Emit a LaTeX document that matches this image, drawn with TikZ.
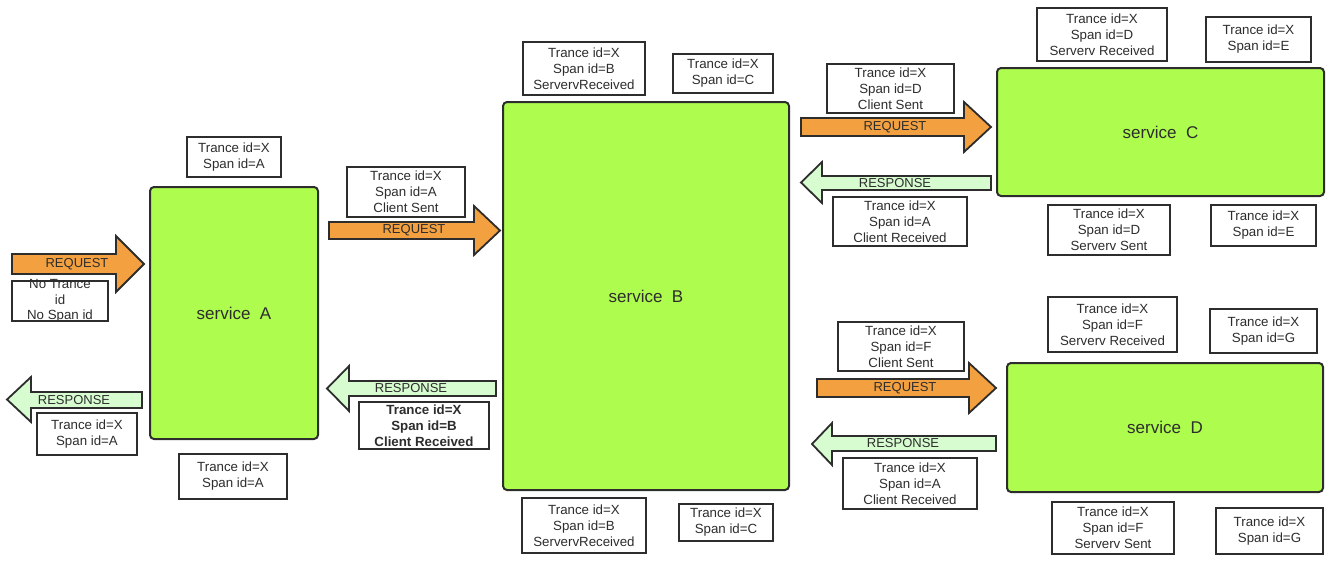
\documentclass[tikz,border=0pt]{standalone}
\usepackage{fontspec}
\setmainfont{Liberation Sans}
\definecolor{svcgreen}{RGB}{174,252,77}
\definecolor{reqorange}{RGB}{243,161,64}
\definecolor{respgreen}{RGB}{214,252,208}
\definecolor{edgegray}{RGB}{45,45,45}
\definecolor{textgray}{RGB}{45,45,45}

\begin{document}
\begin{tikzpicture}[x=1pt,y=-1pt,
    svcbox/.style={draw=edgegray, line width=2pt, fill=svcgreen, rounded corners=4pt, inner sep=0pt, font=\fontsize{17}{20}\selectfont, text=textgray},
    tagbox/.style={draw=edgegray, line width=1.8pt, fill=white, inner sep=0pt, align=center, font=\fontsize{13.3}{16}\selectfont, text=textgray},
    tagtext/.style={inner sep=0pt, align=center, font=\fontsize{13.3}{15.5}\selectfont, text=textgray},
    reqarrow/.style={draw=edgegray, line width=1.8pt, fill=reqorange},
    resarrow/.style={draw=edgegray, line width=1.8pt, fill=respgreen},
    arrowtext/.style={inner sep=0pt, font=\fontsize{13}{15}\selectfont, text=textgray}]
\useasboundingbox (0,0) rectangle (1340,562);
% services
\node[svcbox, minimum width=168, minimum height=252] (svcA) at (234,313) {service\ \ A};
\node[svcbox, minimum width=286, minimum height=388] (svcB) at (646,296) {service\ \ B};
\node[svcbox, minimum width=327, minimum height=128] (svcC) at (1160.5,132) {service\ \ C};
\node[svcbox, minimum width=316, minimum height=129] (svcD) at (1165,427.5) {service\ \ D};
% requests
\draw[reqarrow] (12,254) -- (116,254) -- (116,236) -- (144,264) -- (116,292) -- (116,274) -- (12,274) -- cycle;
\node[arrowtext] (reqA) at (77,264) {REQUEST};
\draw[reqarrow] (329,222) -- (474,222) -- (474,206) -- (500,230.5) -- (474,255) -- (474,239) -- (329,239) -- cycle;
\node[arrowtext] (reqB) at (414,230.5) {REQUEST};
\draw[reqarrow] (801,118) -- (964,118) -- (964,102) -- (991,127) -- (964,152) -- (964,136) -- (801,136) -- cycle;
\node[arrowtext] (reqC) at (895,127) {REQUEST};
\draw[reqarrow] (817,379) -- (969,379) -- (969,363) -- (996,388) -- (969,413) -- (969,397) -- (817,397) -- cycle;
\node[arrowtext] (reqD) at (905,388) {REQUEST};
% responses
\draw[resarrow] (142,392) -- (31,392) -- (31,377) -- (7,399.5) -- (31,422) -- (31,408) -- (142,408) -- cycle;
\node[arrowtext] (resA) at (74,400) {RESPONSE};
\draw[resarrow] (496,381) -- (349,381) -- (349,366) -- (327,388.5) -- (349,411) -- (349,396) -- (496,396) -- cycle;
\node[arrowtext] (resB) at (411,388.5) {RESPONSE};
\draw[resarrow] (991,176) -- (822,176) -- (822,162) -- (801,182.5) -- (822,203) -- (822,190) -- (991,190) -- cycle;
\node[arrowtext] (resC) at (895,183) {RESPONSE};
\draw[resarrow] (996,436) -- (832,436) -- (832,423) -- (812,444) -- (832,465) -- (832,451) -- (996,451) -- cycle;
\node[arrowtext] (resD) at (903,443.5) {RESPONSE};
% tags round service A
\node[tagbox, minimum width=96, minimum height=40] (tagAin) at (60,301) {};
\node[tagtext] (tagAintext) at (tagAin) {No Trance\\id\\No Span id};
\node[tagbox, minimum width=94, minimum height=40] (tagAtop) at (234,157) {Trance id=X\\Span id=A};
\node[tagbox, minimum width=108, minimum height=45] (tagAbot) at (233,476.5) {Trance id=X\\Span id=A};
\node[tagbox, minimum width=100, minimum height=42] (tagAout) at (87,434) {Trance id=X\\Span id=A};
% tags round service B
\node[tagbox, minimum width=118, minimum height=50] (tagBin) at (406,192) {Trance id=X\\Span id=A\\Client Sent};
\node[tagbox, minimum width=130, minimum height=47, font=\fontsize{13.3}{16}\selectfont\bfseries] (tagBout) at (424,425.5) {Trance id=X\\Span id=B\\Client Received};
\node[tagbox, minimum width=122, minimum height=53] (tagBtopL) at (584,68.5) {Trance id=X\\Span id=B\\ServervReceived};
\node[tagbox, minimum width=100, minimum height=39] (tagBtopR) at (723,73.5) {Trance id=X\\Span id=C};
\node[tagbox, minimum width=124, minimum height=55] (tagBbotL) at (584,525.5) {Trance id=X\\Span id=B\\ServervReceived};
\node[tagbox, minimum width=94, minimum height=37] (tagBbotR) at (726,522.5) {Trance id=X\\Span id=C};
% tags round service C
\node[tagbox, minimum width=127, minimum height=49] (tagCin) at (890.5,88.5) {Trance id=X\\Span id=D\\Client Sent};
\node[tagbox, minimum width=134, minimum height=49] (tagCout) at (900,221.5) {Trance id=X\\Span id=A\\Client Received};
\node[tagbox, minimum width=130, minimum height=53] (tagCtopL) at (1102,34.5) {Trance id=X\\Span id=D\\Serverv Received};
\node[tagbox, minimum width=105, minimum height=45] (tagCtopR) at (1258.5,39.5) {Trance id=X\\Span id=E};
\node[tagbox, minimum width=122, minimum height=50] (tagCbotL) at (1109,230) {Trance id=X\\Span id=D\\Serverv Sent};
\node[tagbox, minimum width=105, minimum height=41] (tagCbotR) at (1263.5,225.5) {Trance id=X\\Span id=E};
% tags round service D
\node[tagbox, minimum width=126, minimum height=49] (tagDin) at (901,346.5) {Trance id=X\\Span id=F\\Client Sent};
\node[tagbox, minimum width=134, minimum height=51] (tagDout) at (910,483.5) {Trance id=X\\Span id=A\\Client Received};
\node[tagbox, minimum width=129, minimum height=55] (tagDtopL) at (1112.5,324.5) {Trance id=X\\Span id=F\\Serverv Received};
\node[tagbox, minimum width=107, minimum height=44] (tagDtopR) at (1263.5,331) {Trance id=X\\Span id=G};
\node[tagbox, minimum width=122, minimum height=52] (tagDbotL) at (1113,528) {Trance id=X\\Span id=F\\Serverv Sent};
\node[tagbox, minimum width=107, minimum height=46] (tagDbotR) at (1269.5,531) {Trance id=X\\Span id=G};
\end{tikzpicture}
\end{document}
